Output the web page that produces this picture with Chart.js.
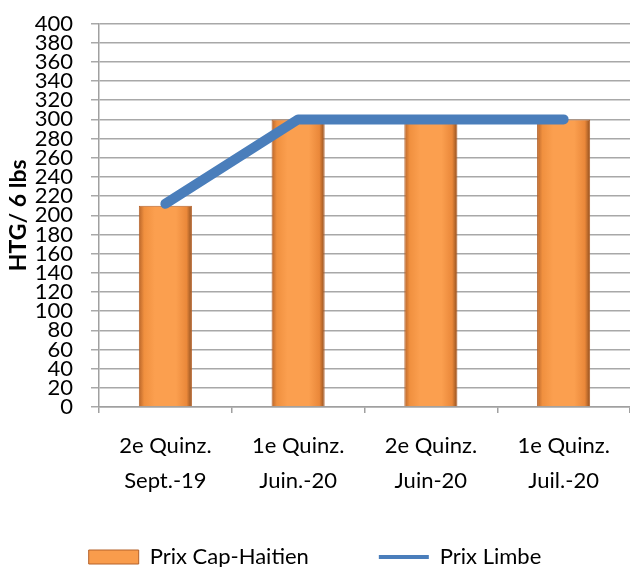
<!DOCTYPE html>
<html><head><meta charset="utf-8">
<script src="https://cdn.jsdelivr.net/npm/chart.js@4"></script>
<style>html,body{margin:0;padding:0;overflow:hidden;background:#fff}#wrap{width:630px;height:601px}</style>
</head><body><div id="wrap"><canvas id="c" width="630" height="601"></canvas></div>
<script>
const categories = [["2e Quinz.","Sept.-19"],["1e Quinz.","Juin.-20"],["2e Quinz.","Juin-20"],["1e Quinz.","Juil.-20"]];
const prixCapHaitien = [210, 300, 300, 300];
const prixLimbe = [212, 300, 300, 300];
const yTitle = "HTG/ 6 lbs";
const seriesNames = ["Prix Cap-Haitien", "Prix Limbe"];

const FONT = "Lato";
function barGradient(ctx) {
  const chart = ctx.chart;
  const xs = chart.scales && chart.scales.x;
  if (!xs || !xs.width || ctx.dataIndex === undefined || ctx.type !== 'data') return '#f99c4c';
  const cx = xs.getPixelForValue(ctx.dataIndex);
  if (!isFinite(cx)) return '#f99c4c';
  const w = xs.width / categories.length * 0.4;
  const g = chart.ctx.createLinearGradient(cx - w/2, 0, cx + w/2, 0);
  g.addColorStop(0, '#b8652a');
  g.addColorStop(0.1, '#f0903f');
  g.addColorStop(0.3, '#fb9f4f');
  g.addColorStop(0.7, '#fb9f4f');
  g.addColorStop(0.9, '#ea883a');
  g.addColorStop(1, '#8e4d1e');
  return g;
}

// move the legend row up closer to the axis labels (spacing only)
const legendShift = {
  id: 'legendShift',
  afterLayout(chart) {
    const lg = chart.legend;
    if (lg) { lg.top -= 23; lg.bottom -= 23; }
  }
};

new Chart(document.getElementById('c'), {
  data: {
    labels: categories,
    datasets: [
      { type: 'bar', label: seriesNames[0], data: prixCapHaitien, order: 1,
        backgroundColor: barGradient, borderColor: '#b5622a', borderWidth: 1,
        barPercentage: 0.4, categoryPercentage: 1.0, pointStyle: 'rect' },
      { type: 'line', label: seriesNames[1], data: prixLimbe, order: 0,
        borderColor: '#4a7ebb', backgroundColor: '#4a7ebb', borderWidth: 10,
        borderCapStyle: 'round', borderJoinStyle: 'round', pointRadius: 0, tension: 0,
        pointStyle: 'line' }
    ]
  },
  plugins: [legendShift],
  options: {
    responsive: false, animation: false,
    layout: { padding: { left: 0, right: 0, top: 0, bottom: 0 } },
    plugins: {
      tooltip: { enabled: false },
      legend: {
        position: 'bottom',
        labels: {
          usePointStyle: true, pointStyleWidth: 50, boxHeight: 14,
          font: { family: FONT, size: 22 }, color: '#000', padding: 70,
          generateLabels(chart) {
            const items = Chart.defaults.plugins.legend.labels.generateLabels(chart);
            items.sort((a, b) => a.datasetIndex - b.datasetIndex);
            items[0].fillStyle = '#f99c4c'; items[0].strokeStyle = '#b5622a'; items[0].lineWidth = 1;
            items[1].lineWidth = 4; items[1].strokeStyle = '#4a7ebb';
            return items;
          }
        }
      }
    },
    scales: {
      x: {
        offset: true,
        grid: { offset: true, drawOnChartArea: false, drawTicks: true, tickLength: 6, color: '#a0a0a0', lineWidth: 1.5 },
        border: { color: '#a0a0a0', width: 1.5 },
        ticks: { font: { family: FONT, size: 22, lineHeight: 1.6 }, color: '#000', padding: 15, maxRotation: 0, autoSkip: false },
        afterFit(s) { s.height = 92; }
      },
      y: {
        min: 0, max: 400,
        grid: { color: '#a8a8a8', lineWidth: 1.5, tickLength: 8 },
        border: { color: '#a0a0a0', width: 1.5 },
        ticks: { stepSize: 20, autoSkip: false, font: { family: FONT, size: 22, lineHeight: 0.5 }, color: '#000', padding: 18 },
        title: { display: true, text: yTitle, font: { family: FONT, size: 23, weight: 'bold' }, color: '#000', padding: { top: 5, bottom: 0 } },
        afterFit(s) { s.width = 99; }
      }
    }
  }
});
</script></body></html>
